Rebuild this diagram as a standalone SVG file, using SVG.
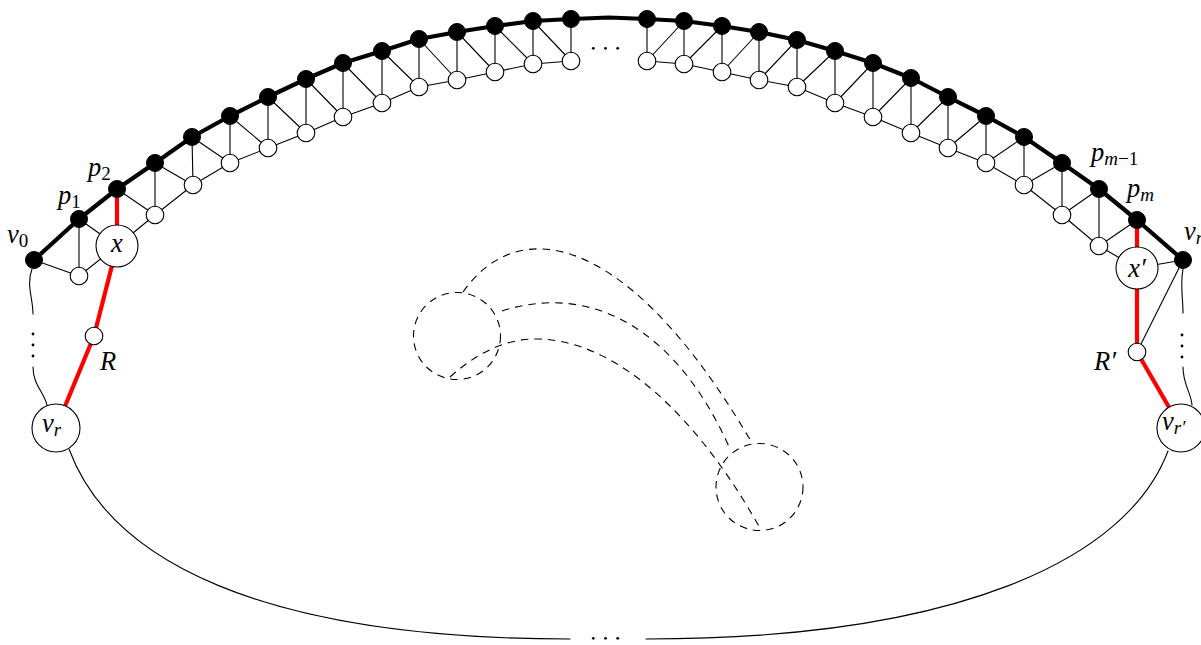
<svg xmlns="http://www.w3.org/2000/svg" width="1201" height="645" viewBox="0 0 1201 645">
<style>
.bg{fill:#fff}
.thin{fill:none;stroke:#000;stroke-width:1.1;stroke-linecap:round;stroke-linejoin:round}
.thick{fill:none;stroke:#000;stroke-width:4.2;stroke-linecap:round;stroke-linejoin:round}
.red{fill:none;stroke:#f00;stroke-width:4.2;stroke-linecap:butt;stroke-linejoin:round}
.dash{fill:none;stroke:#000;stroke-width:1.1;stroke-dasharray:7.5 6}
.b{fill:#000;stroke:#000;stroke-width:1}
.w{fill:#fff;stroke:#000;stroke-width:1.1}
.m{font-family:"Liberation Serif","DejaVu Serif",serif;font-style:italic;font-size:26.5px;fill:#000}
.s{font-size:19px}
.n{font-style:normal}
.dot{fill:#000}
</style>
<rect class="bg" x="0" y="0" width="1201" height="645"/>
<g id="connectors">
  <path class="thin" d="M79,219L79,276M155,163L155,215M192,137L193,185M230,116L230,163M268,97L268,148M306,79L306,133M343,63L343,117M382,51L382,103M419,39L419,87M457,32L457,80M495,26L495,72M533,21L533,64M571,19L571,61"/>
  <path class="thin" d="M34,260L79,276M79,219L117,246M117,189L155,215M155,163L193,185M192,137L230,163M230,116L268,148M268,97L306,133M306,79L343,117M343,63L382,103M382,51L419,87M419,39L457,80M457,32L495,72M495,26L533,64M533,21L571,61"/>
  <polyline class="thin" points="79,276 117,246 155,215 193,185 230,163 268,148 306,133 343,117 382,103 419,87 457,80 495,72 533,64 571,61"/>
  <path class="thin" d="M1099,189L1099,246M1062,163L1062,215M1024,137L1024,185M986,116L986,163M948,97L948,148M911,78L911,133M873,63L873,117M835,51L835,103M797,40L797,87M759,32L759,80M722,26L722,72M684,21L684,64M647,19L647,61"/>
  <path class="thin" d="M1183,260L1137,268M1137,220L1099,246M1099,189L1062,215M1062,163L1024,185M1024,137L986,163M986,116L948,148M948,97L911,133M911,78L873,117M873,63L835,103M835,51L797,87M797,40L759,80M759,32L722,72M722,26L684,64M684,21L647,61"/>
  <polyline class="thin" points="1137,268 1099,246 1062,215 1024,185 986,163 948,148 911,133 873,117 835,103 797,87 759,80 722,72 684,64 647,61"/>
  <path class="thin" d="M1183,260L1137,352"/>
  <polyline class="thick" points="34,260 79,219 117,189 155,163 192,137 230,116 268,97 306,79 343,63 382,51 419,39 457,32 495,26 533,21 571,19 609,17.5 647,19 684,21 722,26 759,32 797,40 835,51 873,63 911,78 948,97 986,116 1024,137 1062,163 1099,189 1137,220 1183,260"/>
  <path class="red" d="M117,189L117,246L94,336L56,428"/>
  <path class="red" d="M1137,220L1137,352L1181,428"/>
  <path class="thin" d="M32,269C26,285 33,298 33,314M33,367C33,385 44,392 47,405"/>
  <path class="thin" d="M1183,269C1180,285 1183,298 1183,313M1183,367C1183,385 1191,392 1192,405"/>
  <path class="thin" d="M69,449C110,560 260,639 570,639"/>
  <path class="thin" d="M646,639C956,639 1127,560 1168,451"/>
  <circle class="dash" cx="457" cy="336" r="43.5"/>
  <circle class="dash" cx="759.5" cy="487" r="43.5"/>
  <path class="dash" d="M463,292C519,212 629.5,233 752,443"/>
  <path class="dash" d="M502,311C592.5,282 677.5,330 730,449"/>
  <path class="dash" d="M450,377C480,350 510,338 540,339C620,342 700,420 761,530"/>
</g>
<g id="dots-top"><circle class="dot" cx="593.3" cy="48.3" r="1.4"/><circle class="dot" cx="605.5" cy="48.3" r="1.4"/><circle class="dot" cx="617.7" cy="48.3" r="1.4"/></g>
<g id="dots-bottom"><circle class="dot" cx="593.3" cy="638.3" r="1.4"/><circle class="dot" cx="605.5" cy="638.3" r="1.4"/><circle class="dot" cx="617.7" cy="638.3" r="1.4"/></g>
<g id="dots-left"><circle class="dot" cx="33" cy="334" r="1.4"/><circle class="dot" cx="33" cy="345" r="1.4"/><circle class="dot" cx="33" cy="356" r="1.4"/></g>
<g id="dots-right"><circle class="dot" cx="1182" cy="335" r="1.4"/><circle class="dot" cx="1182" cy="346" r="1.4"/><circle class="dot" cx="1182" cy="357" r="1.4"/></g>
<g id="v0"><circle class="b" cx="34" cy="260" r="8.5"/><text class="m" x="7" y="243">v<tspan class="s n" dy="4">0</tspan></text></g>
<g id="p1"><circle class="b" cx="79" cy="219" r="8.5"/><text class="m" x="58" y="204">p<tspan class="s n" dy="4">1</tspan></text></g>
<g id="p2"><circle class="b" cx="117" cy="189" r="8.5"/><text class="m" x="88" y="176">p<tspan class="s n" dy="4">2</tspan></text></g>
<g id="bl3"><circle class="b" cx="155" cy="163" r="8.5"/></g>
<g id="bl4"><circle class="b" cx="192" cy="137" r="8.5"/></g>
<g id="bl5"><circle class="b" cx="230" cy="116" r="8.5"/></g>
<g id="bl6"><circle class="b" cx="268" cy="97" r="8.5"/></g>
<g id="bl7"><circle class="b" cx="306" cy="79" r="8.5"/></g>
<g id="bl8"><circle class="b" cx="343" cy="63" r="8.5"/></g>
<g id="bl9"><circle class="b" cx="382" cy="51" r="8.5"/></g>
<g id="bl10"><circle class="b" cx="419" cy="39" r="8.5"/></g>
<g id="bl11"><circle class="b" cx="457" cy="32" r="8.5"/></g>
<g id="bl12"><circle class="b" cx="495" cy="26" r="8.5"/></g>
<g id="bl13"><circle class="b" cx="533" cy="21" r="8.5"/></g>
<g id="bl14"><circle class="b" cx="571" cy="19" r="8.5"/></g>
<g id="wl1"><circle class="w" cx="79" cy="276" r="8.8"/></g>
<g id="x"><circle class="w" cx="117" cy="246" r="21"/><text class="m" x="117" y="252" text-anchor="middle">x</text></g>
<g id="wl3"><circle class="w" cx="155" cy="215" r="8.8"/></g>
<g id="wl4"><circle class="w" cx="193" cy="185" r="8.8"/></g>
<g id="wl5"><circle class="w" cx="230" cy="163" r="8.8"/></g>
<g id="wl6"><circle class="w" cx="268" cy="148" r="8.8"/></g>
<g id="wl7"><circle class="w" cx="306" cy="133" r="8.8"/></g>
<g id="wl8"><circle class="w" cx="343" cy="117" r="8.8"/></g>
<g id="wl9"><circle class="w" cx="382" cy="103" r="8.8"/></g>
<g id="wl10"><circle class="w" cx="419" cy="87" r="8.8"/></g>
<g id="wl11"><circle class="w" cx="457" cy="80" r="8.8"/></g>
<g id="wl12"><circle class="w" cx="495" cy="72" r="8.8"/></g>
<g id="wl13"><circle class="w" cx="533" cy="64" r="8.8"/></g>
<g id="wl14"><circle class="w" cx="571" cy="61" r="8.8"/></g>
<g id="R"><circle class="w" cx="94" cy="336" r="8.8"/><text class="m" x="100" y="370">R</text></g>
<g id="vr"><circle class="w" cx="56" cy="428" r="24"/><text class="m" x="42" y="432">v<tspan class="s" dy="4">r</tspan></text></g>
<g id="br14"><circle class="b" cx="647" cy="19" r="8.5"/></g>
<g id="br13"><circle class="b" cx="684" cy="21" r="8.5"/></g>
<g id="br12"><circle class="b" cx="722" cy="26" r="8.5"/></g>
<g id="br11"><circle class="b" cx="759" cy="32" r="8.5"/></g>
<g id="br10"><circle class="b" cx="797" cy="40" r="8.5"/></g>
<g id="br9"><circle class="b" cx="835" cy="51" r="8.5"/></g>
<g id="br8"><circle class="b" cx="873" cy="63" r="8.5"/></g>
<g id="br7"><circle class="b" cx="911" cy="78" r="8.5"/></g>
<g id="br6"><circle class="b" cx="948" cy="97" r="8.5"/></g>
<g id="br5"><circle class="b" cx="986" cy="116" r="8.5"/></g>
<g id="br4"><circle class="b" cx="1024" cy="137" r="8.5"/></g>
<g id="br3"><circle class="b" cx="1062" cy="163" r="8.5"/></g>
<g id="pm1"><circle class="b" cx="1099" cy="189" r="8.5"/><text class="m" x="1091" y="161">p<tspan class="s" dy="4">m</tspan><tspan class="s n">−1</tspan></text></g>
<g id="pm"><circle class="b" cx="1137" cy="220" r="8.5"/><text class="m" x="1127" y="197">p<tspan class="s" dy="4">m</tspan></text></g>
<g id="vr-right"><circle class="b" cx="1183" cy="260" r="8.5"/><text class="m" x="1184" y="240">v<tspan class="s" dy="4">r</tspan></text></g>
<g id="wr14"><circle class="w" cx="647" cy="61" r="8.8"/></g>
<g id="wr13"><circle class="w" cx="684" cy="64" r="8.8"/></g>
<g id="wr12"><circle class="w" cx="722" cy="72" r="8.8"/></g>
<g id="wr11"><circle class="w" cx="759" cy="80" r="8.8"/></g>
<g id="wr10"><circle class="w" cx="797" cy="87" r="8.8"/></g>
<g id="wr9"><circle class="w" cx="835" cy="103" r="8.8"/></g>
<g id="wr8"><circle class="w" cx="873" cy="117" r="8.8"/></g>
<g id="wr7"><circle class="w" cx="911" cy="133" r="8.8"/></g>
<g id="wr6"><circle class="w" cx="948" cy="148" r="8.8"/></g>
<g id="wr5"><circle class="w" cx="986" cy="163" r="8.8"/></g>
<g id="wr4"><circle class="w" cx="1024" cy="185" r="8.8"/></g>
<g id="wr3"><circle class="w" cx="1062" cy="215" r="8.8"/></g>
<g id="wr2"><circle class="w" cx="1099" cy="246" r="8.8"/></g>
<g id="xp"><circle class="w" cx="1137" cy="268" r="21"/><text class="m" x="1137" y="277" text-anchor="middle">x′</text></g>
<g id="Rp"><circle class="w" cx="1137" cy="352" r="8.8"/><text class="m" x="1094" y="370">R′</text></g>
<g id="vrp"><circle class="w" cx="1181" cy="428" r="24"/><text class="m" x="1162" y="430">v<tspan class="s" dy="4">r′</tspan></text></g>
</svg>
